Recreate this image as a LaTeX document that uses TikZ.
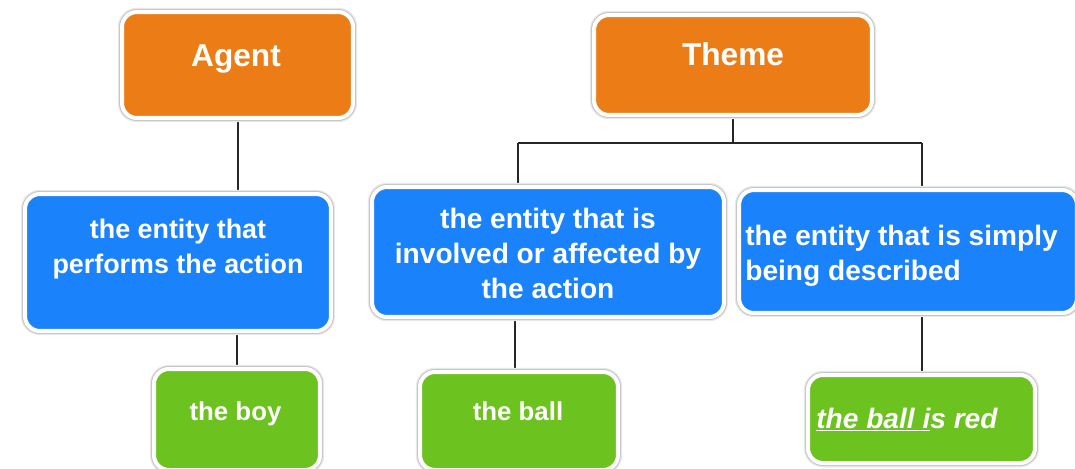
\documentclass[tikz,border=0pt]{standalone}
\usepackage{fontspec}
\setmainfont{Liberation Sans}
\usetikzlibrary{positioning,backgrounds}
\definecolor{roleorange}{RGB}{236,125,22}
\definecolor{roleblue}{RGB}{26,130,250}
\definecolor{rolegreen}{RGB}{108,194,30}

\begin{document}
\begin{tikzpicture}[x=0.02cm,y=-0.02cm,
    rolebox/.style={rectangle,rounded corners=0.3cm,draw=white,line width=0.08cm,
      preaction={draw=black!9,line width=0.17cm},
      preaction={draw=black!22,line width=0.12cm}},
    headtxt/.style={font=\fontsize{18}{22}\selectfont\bfseries,text=white,inner sep=0pt,anchor=base},
    bodytxt/.style={font=\fontsize{15.3}{19.5}\selectfont\bfseries,text=white,inner sep=0pt},
    widetxt/.style={font=\fontsize{16}{19.8}\selectfont\bfseries,text=white,inner sep=0pt},
    smalltxt/.style={font=\fontsize{14.7}{18}\selectfont\bfseries,text=white,inner sep=0pt,anchor=base},
    link/.style={line width=0.04cm,black!85}]
    \useasboundingbox (0,0) rectangle (1075,468);
    % top row
    \node[rolebox,fill=roleorange,minimum width=4.62cm,minimum height=2.12cm] (agent) at (237.5,65) {};
    \node[rolebox,fill=roleorange,minimum width=5.56cm,minimum height=2.0cm] (theme) at (733,65) {};
    \node[headtxt] (agentlbl) at (236,66) {Agent};
    \node[headtxt] (themelbl) at (733,65) {Theme};
    % definitions
    \node[rolebox,fill=roleblue,minimum width=6.12cm,minimum height=2.74cm] (agentdef) at (178,262.5) {};
    \node[rolebox,fill=roleblue,minimum width=7.04cm,minimum height=2.6cm] (themedefa) at (548,252) {};
    \node[rolebox,fill=roleblue,minimum width=6.76cm,minimum height=2.46cm] (themedefb) at (908,251.5) {};
    \node[bodytxt,align=center] (agentdeflbl) at (178,249) {the entity that\\performs the action};
    \node[widetxt,align=center] (themedefalbl) at (548,253.5) {the entity that is\\involved or affected by\\the action};
    \node[widetxt,align=left,anchor=west] (themedefblbl) at (745,256) {the entity that is simply\\being described};
    % examples
    \node[rolebox,fill=rolegreen,minimum width=3.32cm,minimum height=2.02cm] (boy) at (237,419.5) {};
    \node[rolebox,fill=rolegreen,minimum width=3.96cm,minimum height=1.96cm] (ball) at (519,421) {};
    \node[rolebox,fill=rolegreen,minimum width=4.54cm,minimum height=1.76cm] (red) at (921.5,419) {};
    \node[smalltxt] (boylbl) at (235.5,420) {the boy};
    \node[smalltxt] (balllbl) at (518,420) {the ball};
    \node[widetxt,anchor=base west] (redlbl) at (816,428) {\itshape\underline{the ball i}s red};
    % connectors
    \begin{scope}[on background layer]
      \coordinate (hub) at (733,143);
      \coordinate (hubl) at (518,143);
      \coordinate (hubr) at (922,143);
      \draw[link] (agent.south) -- (agent.south |- agentdef.north);
      \draw[link] (agentdef.south -| boy.north) -- (boy.north);
      \draw[link] (theme.south) -- (hub);
      \draw[link] (hubl) -- (hubr);
      \draw[link] (hubl) -- (hubl |- themedefa.north);
      \draw[link] (hubr) -- (hubr |- themedefb.north);
      \draw[link] ([xshift=-0.08cm]themedefa.south -| ball.north) -- ([xshift=-0.08cm]ball.north);
      \draw[link] (themedefb.south -| red.north) -- (red.north);
    \end{scope}
\end{tikzpicture}
\end{document}
